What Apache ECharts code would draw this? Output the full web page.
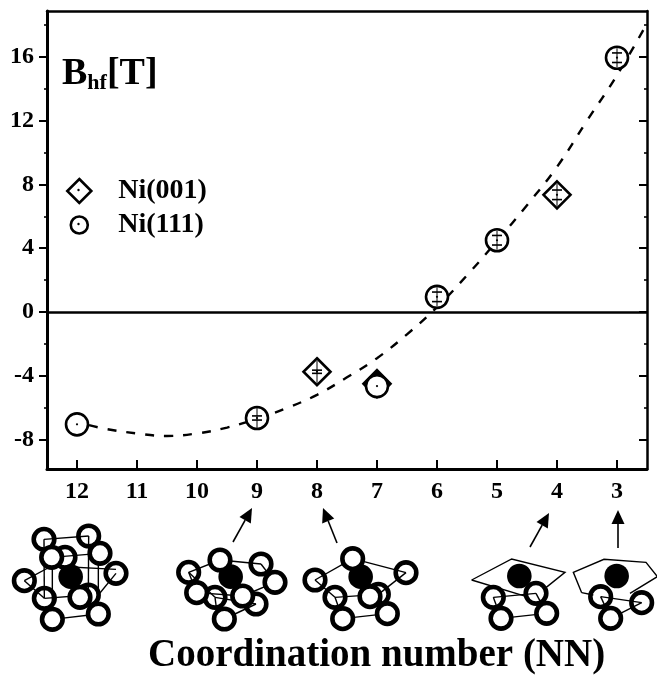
<!DOCTYPE html>
<html><head><meta charset="utf-8">
<style>html,body{margin:0;padding:0;background:#fff}#c{width:657px;height:675px}</style>
<script src="https://cdn.jsdelivr.net/npm/echarts@6/dist/echarts.min.js"></script>
</head><body><div id="c"></div>
<script>
const ni001 = [[8,-3.75],[7,-4.5],[4,7.35]];
const ni111 = [[12,-7.05],[9,-6.65],[7,-4.65],[6,0.95],[5,4.5],[3,15.95]];
const fitCurve = [[11.8,-7.1],[11.5,-7.35],[11,-7.62],[10.5,-7.78],[10,-7.62],[9.5,-7.25],[9,-6.7],[8.5,-6.02],[8,-5.2],[7.5,-4.1],[7,-2.9],[6.5,-1.4],[6,0.3],[5.5,2.3],[5,4.45],[4.5,6.7],[4,9.1],[3.5,12],[3,14.85],[2.5,18.1]];
// [NN, value, capHalf, stemHalf]
const errorBars = [[12,-7.05,0,0],[9,-6.65,0.13,0.7],[8,-3.75,0.1,0.7],[7,-4.65,0,0],[6,0.95,0.3,0.6],[5,4.5,0.3,0.6],[4,7.35,0.3,0.7],[3,15.95,0.3,0.6]];
const xTicks = [12,11,10,9,8,7,6,5,4,3];
const yMajor = [-8,-4,0,4,8,12,16];
const yMinor = [-6,-2,2,6,10,14,18];

// schematic cluster drawings (decoration, page px = offset + zoomed/3)
const clusters = [
 {o:[0,480], back:[[195,232],[132,178],[266,168],[73,302],[348,280],[133,355],[265,345]],
  lines:[[132,178,266,168],[132,178,133,355],[266,168,265,345],[133,355,265,345],[155,232,300,220],[73,302,155,258],[155,258,348,268],[157,418,295,402],[157,232,157,418],[295,220,295,402],[73,302,133,355],[348,280,295,345]],
  core:[212,290], front:[[155,232],[300,220],[240,352],[295,402],[157,418]]},
 {o:[0,480], back:[[566,277],[783,252],[645,352],[768,372]],
  lines:[[566,277,660,240],[660,240,783,252],[783,252,825,307],[566,277,590,338],[645,352,768,372],[590,338,728,348],[673,417,768,372],[825,307,728,348],[566,277,645,352],[645,352,650,390]],
  core:[692,290], front:[[660,240],[825,307],[590,338],[728,348],[673,417]]},
 {o:[330,480], back:[[-45,300],[228,278],[15,352],[145,343]],
  lines:[[-45,300,68,236],[68,236,228,278],[228,278,145,343],[-45,300,15,352],[15,352,145,343],[38,416,172,401],[15,352,38,416],[145,343,172,401]],
  core:[92,290], front:[[68,236],[120,350],[172,401],[38,416]]},
 {o:[330,480], back:[[490,352],[618,340]],
  lines:[[425,300,545,237,705,277,645,325],[425,300,590,350],[490,352,618,340],[513,415,650,400],[490,352,513,415],[618,340,650,400]],
  core:[568,288], front:[[513,415],[650,400]]},
 {o:[330,480], back:[[812,350],[935,368]],
  lines:[[755,338,730,277,822,238,948,247,982,290,900,340],[755,338,790,345],[812,350,935,368],[842,415,935,368],[812,350,842,415]],
  core:[860,288], front:[[842,415]]}
];
const arrows = [[233,542,252,508],[337,543,323,508],[530,547,549,513],[618,548,618,510]];

const graphics = [];
clusters.forEach(c=>{
  const P=(x,y)=>[c.o[0]+x/3,c.o[1]+y/3];
  const ring=p=>{const q=P(p[0],p[1]);graphics.push({type:'circle',z:1,shape:{cx:q[0],cy:q[1],r:10.3},style:{fill:'#fff',stroke:'#000',lineWidth:4.6}});};
  c.back.forEach(ring);
  c.lines.forEach(l=>{const pts=[];for(let i=0;i<l.length;i+=2)pts.push(P(l[i],l[i+1]));
    graphics.push({type:'polyline',z:1,shape:{points:pts},style:{fill:null,stroke:'#000',lineWidth:1.4}});});
  const k=P(c.core[0],c.core[1]);
  graphics.push({type:'circle',z:1,shape:{cx:k[0],cy:k[1],r:12.3},style:{fill:'#000'}});
  c.front.forEach(ring);
});
arrows.forEach(a=>{
  const [x1,y1,x2,y2]=a, d=Math.hypot(x2-x1,y2-y1), ux=(x2-x1)/d, uy=(y2-y1)/d, h=14, w=6.5;
  const bx=x2-ux*h, by=y2-uy*h;
  graphics.push({type:'line',z:1,shape:{x1:x1,y1:y1,x2:bx,y2:by},style:{stroke:'#000',lineWidth:1.6}});
  graphics.push({type:'polygon',z:1,shape:{points:[[x2,y2],[bx-uy*w,by+ux*w],[bx+uy*w,by-ux*w]]},style:{fill:'#000'}});
});
// centre dots of the legend keys
[[78.5,190],[78.5,224]].forEach(p=>graphics.push({type:'circle',z:20,shape:{cx:p[0],cy:p[1],r:1.2},style:{fill:'#000'}}));

const FONT='"Liberation Serif"';
const YMIN=-9.85,YMAX=18.88;
const baseY={type:'value',min:YMIN,max:YMAX,splitLine:{show:false},axisLabel:{show:false},axisLine:{show:false},axisTick:{show:false}};
const circlePath='path://M0 0L0 0M24 24L24 24M12 3.5A8.5 8.5 0 1 1 11.99 3.5Z';

const chart=echarts.init(document.getElementById('c'),null,{renderer:'canvas'});
chart.setOption({
  animation:false,
  backgroundColor:'#fff',
  grid:{left:47,right:10,top:11,bottom:206,containLabel:false},
  title:[
    {text:'Coordination number (NN)',left:148,top:636,padding:0,textStyle:{fontFamily:FONT,fontWeight:'bold',fontSize:39,color:'#000'}},
    {text:'{b|B}{s|hf}{b|[T]}',left:62,top:54,padding:0,textStyle:{rich:{
       b:{fontFamily:FONT,fontWeight:'bold',fontSize:38,color:'#000',lineHeight:40},
       s:{fontFamily:FONT,fontWeight:'bold',fontSize:22,color:'#000',padding:[18,0,0,0],lineHeight:40}}}}
  ],
  legend:{left:66,top:177,orient:'vertical',itemWidth:24,itemHeight:24,itemGap:6,padding:0,selectedMode:false,
    textStyle:{fontFamily:FONT,fontWeight:'bold',fontSize:28,color:'#000',padding:[0,0,0,22]},
    data:[{name:'Ni(001)',icon:'diamond',itemStyle:{color:'#fff',borderColor:'#000',borderWidth:2.6}},
          {name:'Ni(111)',icon:circlePath,itemStyle:{color:'#fff',borderColor:'#000',borderWidth:2.6}}]},
  xAxis:[
    {type:'value',inverse:true,min:2.5,max:12.5,position:'bottom',splitLine:{show:false},
     axisLine:{show:true,onZero:false,lineStyle:{color:'#000',width:3}},
     axisTick:{show:true,inside:true,length:9,customValues:xTicks,lineStyle:{color:'#000',width:2}},
     axisLabel:{show:true,customValues:xTicks,margin:11,fontFamily:FONT,fontWeight:'bold',fontSize:24,color:'#000'}},
    {type:'value',inverse:true,min:2.5,max:12.5,position:'top',splitLine:{show:false},
     axisLine:{show:true,onZero:false,lineStyle:{color:'#000',width:2.5}},axisTick:{show:false},axisLabel:{show:false}}
  ],
  yAxis:[
    {type:'value',min:YMIN,max:YMAX,position:'left',splitLine:{show:false},
     axisLine:{show:true,onZero:false,lineStyle:{color:'#000',width:3}},
     axisTick:{show:true,length:8,customValues:yMajor,lineStyle:{color:'#000',width:2}},
     axisLabel:{show:true,customValues:yMajor,margin:13,fontFamily:FONT,fontWeight:'bold',fontSize:24,color:'#000',formatter:v=>String(v).replace('−','-')}},
    Object.assign({},baseY,{position:'left',axisTick:{show:true,length:3,customValues:yMinor,lineStyle:{color:'#000',width:1.6}}}),
    Object.assign({},baseY,{position:'right',axisLine:{show:true,onZero:false,lineStyle:{color:'#000',width:2.5}},
      axisTick:{show:true,inside:true,length:8,customValues:yMajor,lineStyle:{color:'#000',width:2}}}),
    Object.assign({},baseY,{position:'right',axisTick:{show:true,inside:true,length:3,customValues:yMinor,lineStyle:{color:'#000',width:1.6}}})
  ],
  series:[
    {type:'line',name:'fit',data:fitCurve,smooth:0.4,showSymbol:false,symbol:'none',z:2,clip:false,
     lineStyle:{color:'#000',width:2.4,type:[9,10]},
     markLine:{silent:true,symbol:'none',label:{show:false},animation:false,lineStyle:{color:'#000',width:2.6,type:'solid'},data:[{yAxis:0}]}},
    {type:'scatter',name:'Ni(001)',data:ni001.map(d=>({value:d,itemStyle:d[0]===7?{color:'#000'}:undefined})),symbol:'diamond',symbolSize:27,z:3,
     itemStyle:{color:'#fff',borderColor:'#000',borderWidth:2.6,opacity:1}},
    {type:'scatter',name:'Ni(111)',data:ni111,symbol:'circle',symbolSize:22,z:4,
     itemStyle:{color:'#fff',borderColor:'#000',borderWidth:2.6,opacity:1}},
    {type:'custom',name:'err',data:errorBars,z:5,silent:true,clip:false,encode:{x:0,y:1},
     renderItem:(p,api)=>{
       const x=api.value(0),y=api.value(1),cap=api.value(2),stem=api.value(3);
       const c=api.coord([x,y]),children=[{type:'circle',shape:{cx:c[0],cy:c[1],r:1.1},style:{fill:'#000'}}];
       const ln=(x1,y1,x2,y2,w)=>children.push({type:'line',shape:{x1,y1,x2,y2},style:{stroke:'#000',lineWidth:w}});
       if(stem){const a=api.coord([x,y+stem]),b=api.coord([x,y-stem]);ln(a[0],a[1],a[0],b[1],1);}
       if(cap){[y+cap,y-cap].forEach(v=>{const q=api.coord([x,v]);ln(q[0]-5,q[1],q[0]+5,q[1],1.6);});}
       return {type:'group',children};
     }}
  ],
  graphic:{elements:graphics}
});
</script></body></html>
